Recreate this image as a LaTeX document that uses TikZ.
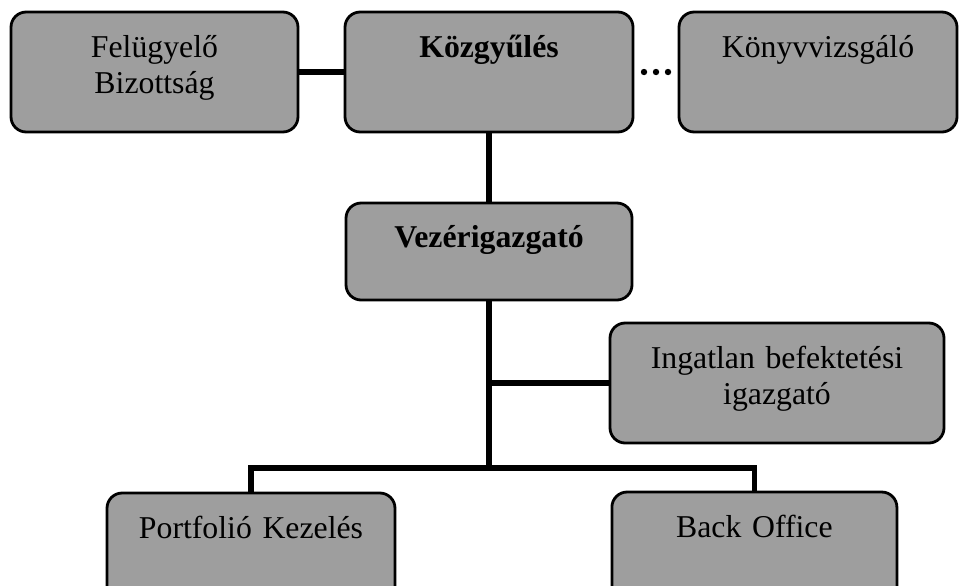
\documentclass[tikz,border=0pt]{standalone}
\usepackage{fontspec}
\setmainfont{Liberation Serif}
\usetikzlibrary{positioning}

\tikzset{
  unit/.style={draw=black, line width=2pt, rounded corners=0.38cm, fill=black!38,
    minimum width=#1, minimum height=3cm, inner sep=0pt, outer sep=0pt,
    text width=#1, align=center, text height=0.5cm, text depth=1.22cm,
    font=\fontsize{22.6}{25.5}\selectfont},
  link/.style={line width=3.6pt},
}

\begin{document}
\begin{tikzpicture}
  \useasboundingbox (0,0) rectangle (24,-14.625);
  \clip (0,0) rectangle (24,-14.625);
  \node[unit=7.2cm] (koz) at (12.225,-1.8) {\textbf{Közgyűlés}};
  \node[unit=7.175cm, left=1.175cm of koz] (fel) {Felügyelő\\Bizottság};
  \node[unit=6.95cm, right=1.15cm of koz] (konyv) {Könyvvizsgáló};
  \node[unit=7.15cm, minimum height=2.425cm, text depth=0.685cm, below=1.775cm of koz] (vez) {\textbf{Vezérigazgató}};
  \node[unit=8.35cm, below right=0.575cm and 3.025cm of vez.south] (ing) {Ingatlan befektetési\\igazgató};
  \node[unit=7.2cm, anchor=north] (port) at (6.275,-12.325) {Portfolió Kezelés};
  \node[unit=7.125cm, anchor=north] (back) at (18.86,-12.3) {Back Office};
  \coordinate[below=4.2cm of vez.south] (split);

  \draw[link] (fel) -- (koz);
  \draw[link, line width=0.16cm, line cap=round, dash pattern=on 0pt off 0.3cm,
    shorten <=0.275cm, shorten >=0.275cm] (koz) -- (konyv);
  \draw[link] (koz) -- (vez);
  \draw[link] (vez.south) -- (split);
  \draw[link] (vez.south |- ing.west) -- (ing.west);
  \draw[link] (port.north) |- (split) -| (back.north);
\end{tikzpicture}
\end{document}
